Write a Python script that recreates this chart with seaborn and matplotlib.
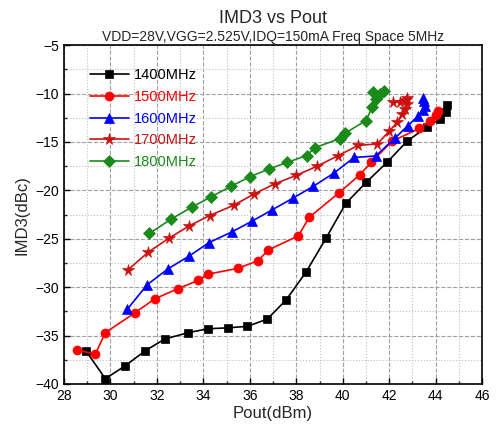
import numpy as np
import pandas as pd
import matplotlib
matplotlib.use("Agg")
import matplotlib.pyplot as plt
import seaborn as sns
from matplotlib.ticker import MultipleLocator

# data
labels = ["1400MHz", "1500MHz", "1600MHz", "1700MHz", "1800MHz"]

pout_1400 = [28.95, 29.78, 30.62, 31.48, 32.34, 33.35, 34.18, 35.04, 35.89, 36.75, 37.57,
             38.43, 39.29, 40.13, 41.02, 41.91, 42.78, 43.63, 44.2, 44.45, 44.47]
imd_1400 = [-36.6, -39.45, -38.15, -36.6, -35.35, -34.7, -34.3, -34.2, -34.05, -33.3, -31.3,
            -28.4, -24.9, -21.35, -19.15, -17.1, -14.9, -13.45, -12.6, -11.9, -11.2]

pout_1500 = [28.56, 29.35, 29.78, 31.05, 31.91, 32.91, 33.78, 34.21, 35.5, 36.36, 36.8,
             38.09, 38.55, 39.84, 40.73, 41.23, 42.11, 43.3, 43.76, 44.0, 44.1]
imd_1500 = [-36.5, -36.9, -34.7, -32.65, -31.2, -30.15, -29.3, -28.65, -28.05, -27.25, -26.15,
            -24.7, -22.8, -20.25, -18.4, -17.1, -14.95, -13.6, -12.8, -12.2, -11.8]

pout_1600 = [30.72, 31.58, 32.48, 33.38, 34.24, 35.22, 36.08, 36.97, 37.86, 38.72, 39.63,
             40.49, 41.42, 42.25, 42.81, 43.25, 43.46, 43.55, 43.5, 43.45]
imd_1600 = [-32.3, -29.75, -28.1, -26.8, -25.4, -24.3, -23.2, -22.0, -20.8, -19.6, -18.2,
            -16.6, -16.45, -14.6, -13.3, -12.3, -11.7, -11.25, -10.75, -10.45]

pout_1700 = [30.76, 31.62, 32.51, 33.4, 34.27, 35.3, 36.2, 37.1, 38.0, 38.9, 39.81, 40.67,
             41.49, 42.0, 42.35, 42.54, 42.68, 42.75, 42.72, 42.15, 42.45, 42.75]
imd_1700 = [-28.2, -26.4, -24.95, -23.65, -22.6, -21.55, -20.35, -19.3, -18.45, -17.5, -16.4,
            -15.35, -15.2, -13.9, -12.95, -12.15, -11.6, -11.1, -10.65, -10.9, -10.85, -10.5]

pout_1800 = [31.68, 32.59, 33.49, 34.31, 35.17, 36.0, 36.82, 37.62, 38.45, 38.79, 39.88,
             40.1, 40.99, 41.28, 41.42, 41.3, 41.6, 41.78]
imd_1800 = [-24.45, -23.0, -21.75, -20.7, -19.6, -18.6, -17.8, -17.1, -16.4, -15.6, -14.65,
            -14.1, -12.8, -11.4, -10.55, -9.85, -10.0, -9.7]

series = [(pout_1400, imd_1400), (pout_1500, imd_1500), (pout_1600, imd_1600),
          (pout_1700, imd_1700), (pout_1800, imd_1800)]
colors = ["#000000", "#ff0000", "#0000ff", "#cc1111", "#1a8a1a"]
markers = ["s", "o", "^", "*", "D"]
msizes = [6, 6.5, 7.5, 8.5, 6]

sns.set_style("ticks")
plt.rcParams["font.family"] = ["Liberation Sans", "DejaVu Sans"]

fig = plt.figure(figsize=(4.96, 4.30), dpi=100)
ax = fig.add_axes([0.129, 0.107, 0.843, 0.788])

for (xs, ys), lab, c, m, ms in zip(series, labels, colors, markers, msizes):
    sns.lineplot(x=xs, y=ys, ax=ax, sort=False, estimator=None, color=c, marker=m,
                 markersize=ms, markeredgecolor=c, markeredgewidth=0.5, linewidth=1.2,
                 label=lab, legend=False)

ax.set_xlim(28, 46)
ax.set_ylim(-40, -5)
ax.xaxis.set_major_locator(MultipleLocator(2))
ax.xaxis.set_minor_locator(MultipleLocator(1))
ax.yaxis.set_major_locator(MultipleLocator(5))
ax.yaxis.set_minor_locator(MultipleLocator(2.5))
ax.grid(which="major", linestyle="--", color="#a0a0a0", linewidth=0.8)
ax.grid(which="minor", linestyle=":", color="#c0c0c0", linewidth=0.8)
ax.set_axisbelow(True)
ax.tick_params(which="major", direction="in", length=4, width=1, labelsize=10, colors="#000000")
ax.tick_params(which="minor", direction="in", length=2.5, width=1)
for sp in ax.spines.values():
    sp.set_visible(True)
    sp.set_linewidth(1.2)
    sp.set_color("#000000")

ax.set_xlabel("Pout(dBm)", fontsize=12, labelpad=2)
ax.set_ylabel("IMD3(dBc)", fontsize=12, labelpad=4)

leg = ax.legend(loc="upper left", bbox_to_anchor=(0.03, 0.97), frameon=False, fontsize=10.5,
                handlelength=2.7, labelspacing=0.52, handletextpad=0.35, labelcolor="linecolor")

fig.text(0.55, 0.958, "IMD3 vs Pout", ha="center", va="center", fontsize=13)
fig.text(0.55, 0.915, "VDD=28V,VGG=2.525V,IDQ=150mA Freq Space 5MHz", ha="center",
         va="center", fontsize=10)

fig.savefig("out.png", dpi=100)
